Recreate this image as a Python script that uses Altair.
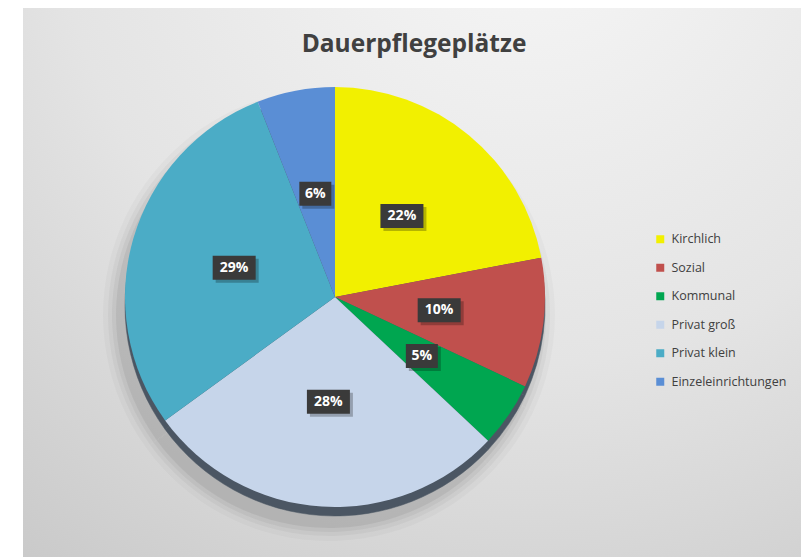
import altair as alt
import pandas as pd

categories = ["Kirchlich", "Sozial", "Kommunal", "Privat groß", "Privat klein", "Einzeleinrichtungen"]
values = [22, 10, 5, 28, 29, 6]
colors = ["#F2F000", "#C0504D", "#00A650", "#C6D5EA", "#4BACC6", "#5A8ED5"]
title_text = "Dauerpflegeplätze"

CX, CY, R = 335, 297, 210
W, H = 801, 557

df = pd.DataFrame({"cat": categories, "val": values, "order": list(range(len(values)))})
df["label"] = df["val"].astype(str) + "%"

color_scale = alt.Scale(domain=categories, range=colors)
theta = alt.Theta("val:Q", stack=True)
order = alt.Order("order:Q")

base = alt.Chart(df)

# background panel with gradient
bg = alt.Chart(pd.DataFrame({"a": [0]})).mark_rect(
    color=alt.RadialGradient(
        gradient="radial",
        stops=[alt.GradientStop(color="#f7f7f7", offset=0),
               alt.GradientStop(color="#e4e4e4", offset=0.55),
               alt.GradientStop(color="#c8c8c8", offset=1)],
        x1=0.65, y1=0.0, r1=0.0, x2=0.65, y2=0.0, r2=1.1,
    )
).encode(x=alt.value(23), x2=alt.value(W), y=alt.value(8), y2=alt.value(H))

# soft shadow (full discs drawn from the same data in one colour)
shadows = []
for dr, op in [(16, 0.025), (11, 0.035), (7, 0.045), (3, 0.06)]:
    shadows.append(
        base.mark_arc(color="#000000", opacity=op, outerRadius=R + dr, strokeWidth=0).encode(
            theta=theta, order=order, x=alt.value(CX - 6), y=alt.value(CY + 18)
        )
    )

rim = base.mark_arc(color="#4B5663", outerRadius=R, stroke="#4B5663", strokeWidth=0.5).encode(
    theta=theta, order=order, x=alt.value(CX), y=alt.value(CY + 9)
)

pie = base.mark_arc(outerRadius=R).encode(
    theta=theta,
    order=order,
    color=alt.Color("cat:N", scale=color_scale, sort=categories,
                    legend=alt.Legend(title=None, orient="none", legendX=654, legendY=233,
                                      symbolType="square", symbolSize=64, symbolStrokeWidth=0,
                                      labelFont="Open Sans", labelFontSize=12.5, labelColor="#404040",
                                      rowPadding=15.5, labelOffset=5, padding=0)),
    x=alt.value(CX), y=alt.value(CY),
)

calc = base.transform_window(
    cum="sum(val)", sort=[alt.SortField("order")], frame=[None, 0]
).transform_joinaggregate(
    tot="sum(val)"
).transform_calculate(
    ang="2*PI*(datum.cum - datum.val/2)/datum.tot",
).transform_calculate(
    px=f"{CX} + 105*sin(datum.ang)",
    py=f"{CY} - 105*cos(datum.ang)",
    hw="length(datum.label) * 5.5 + 5",
).transform_calculate(
    x1="datum.px - datum.hw",
    x2="datum.px + datum.hw",
    y1="datum.py - 12",
    y2="datum.py + 12",
    sx1="datum.px - datum.hw + 3",
    sx2="datum.px + datum.hw + 3",
    sy1="datum.py - 9",
    sy2="datum.py + 15",
)

box_shadow = calc.mark_rect(color="#000000", opacity=0.25).encode(
    x=alt.X("sx1:Q", scale=None), x2="sx2:Q",
    y=alt.Y("sy1:Q", scale=None), y2="sy2:Q",
)
boxes = calc.mark_rect(color="#3A3A3A").encode(
    x=alt.X("x1:Q", scale=None), x2="x2:Q",
    y=alt.Y("y1:Q", scale=None), y2="y2:Q",
)
labels = calc.mark_text(color="#FFFFFF", font="Open Sans", fontWeight="bold", fontSize=14,
                        baseline="middle", align="center").encode(
    x=alt.X("px:Q", scale=None), y=alt.Y("py:Q", scale=None), text="label:N"
)

title = alt.Chart(pd.DataFrame({"t": [title_text]})).mark_text(
    font="Open Sans", fontWeight="bold", fontSize=24.5, color="#404040", align="center", baseline="middle"
).encode(x=alt.value(414), y=alt.value(45), text="t:N")

chart = alt.layer(bg, *shadows, rim, pie, box_shadow, boxes, labels, title).properties(
    width=W, height=H, padding=0, autosize=alt.AutoSizeParams(type="none"), background="#ffffff"
).configure_view(stroke=None)

chart.save("out.html", embed_options={"renderer": "svg", "actions": False})
